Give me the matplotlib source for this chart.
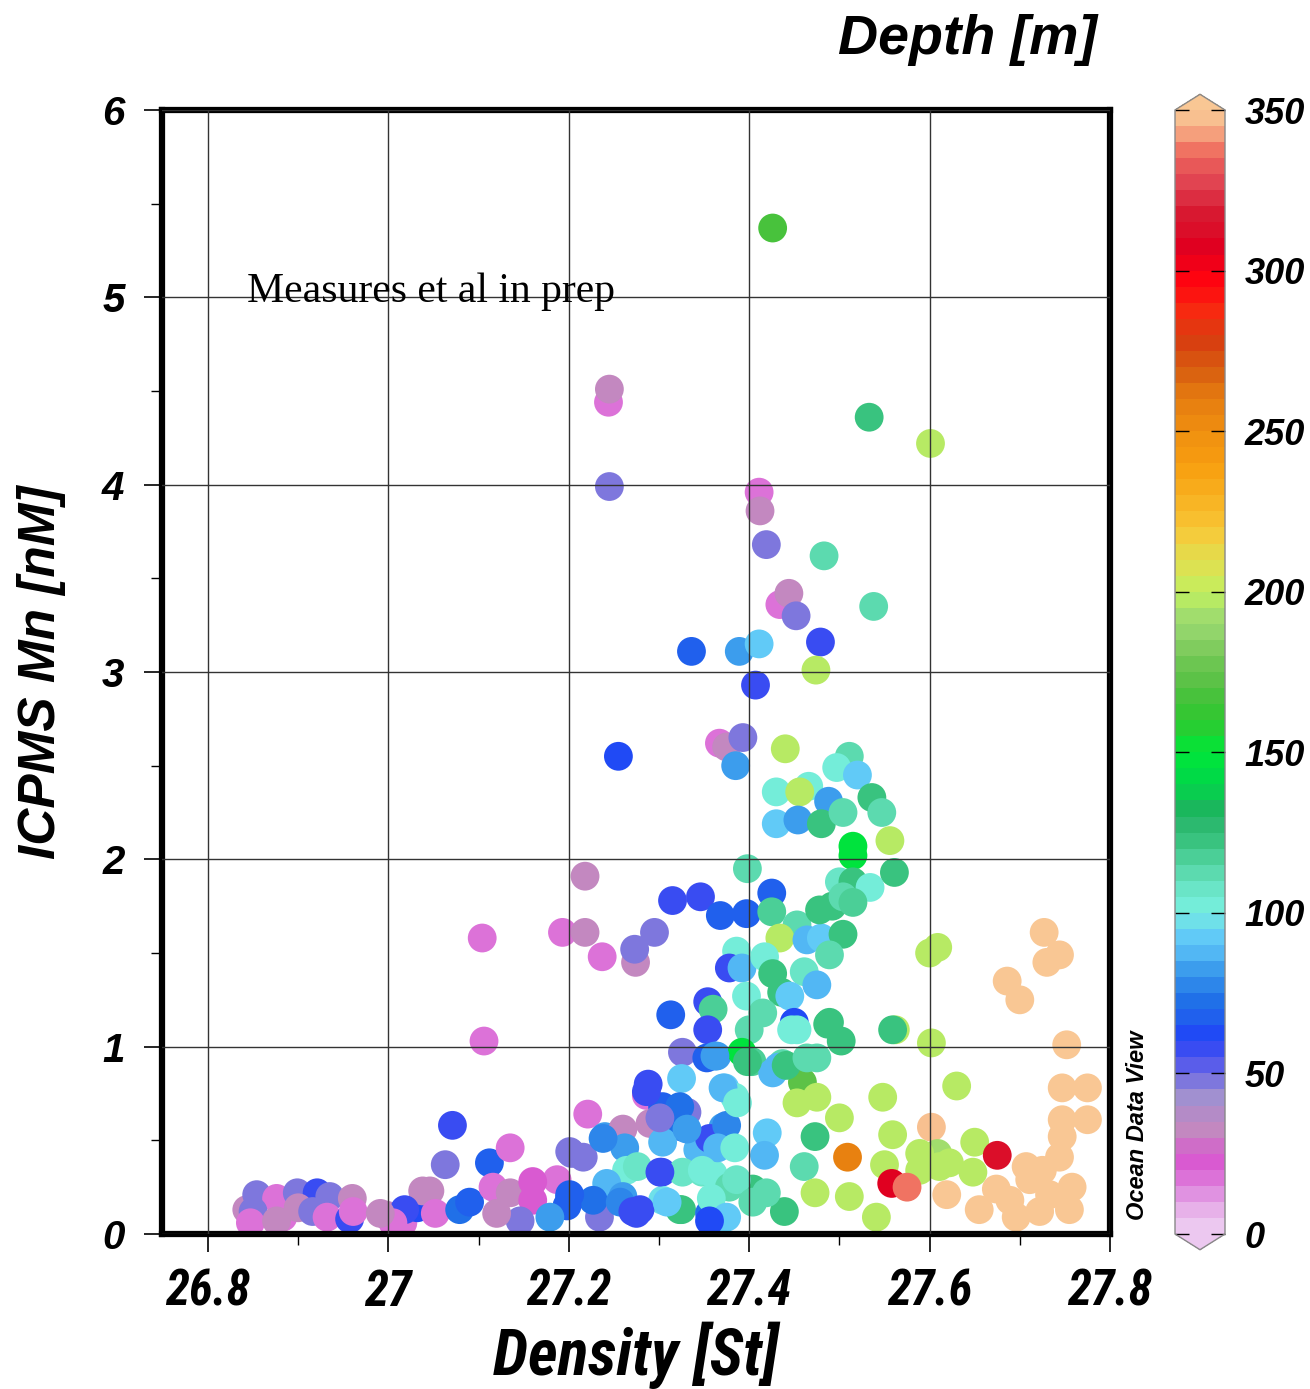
import numpy as np
import matplotlib.pyplot as plt
from matplotlib.colors import LinearSegmentedColormap, ListedColormap, Normalize
from matplotlib.ticker import MultipleLocator
from matplotlib import font_manager

# density [sigma-theta], Mn [nM], depth [m]
density = [27.426, 27.244, 27.245, 27.533, 27.601, 27.245, 27.411, 27.412, 27.419, 27.483,
           27.538, 27.434, 27.444, 27.452, 27.479, 27.474, 27.336, 27.389, 27.411, 27.407,
           27.255, 27.367, 27.375, 27.393, 27.385, 27.440, 27.511, 27.497, 27.520, 27.430,
           27.466, 27.456, 27.488, 27.430, 27.454, 27.480, 27.504, 27.536, 27.547, 27.556,
           27.515, 27.515,
           27.218, 27.193, 27.218, 27.237, 27.274, 27.273, 27.295, 27.315, 27.346, 27.368,
           27.397, 27.425, 27.425, 27.398, 27.453, 27.434, 27.464, 27.480, 27.478, 27.492,
           27.504, 27.489, 27.500, 27.515, 27.534, 27.561, 27.504, 27.515, 27.600, 27.609,
           27.386, 27.378, 27.392, 27.417, 27.426, 27.436, 27.461, 27.475, 27.397, 27.445,
           27.354, 27.360, 27.313, 27.354, 27.415, 27.400, 27.450, 27.447, 27.489, 27.502,
           27.562, 27.559, 27.602,
           27.326, 27.353, 27.364, 27.392, 27.403, 27.426, 27.437, 27.475, 27.459,
           27.325, 27.288, 27.286, 27.373, 27.384, 27.453, 27.475, 27.500, 27.548, 27.221,
           27.304, 27.331, 27.290, 27.240, 27.260, 27.262, 27.203, 27.216,
           27.326, 27.304, 27.343, 27.371, 27.356, 27.420, 27.417, 27.473, 27.461, 27.509,
           27.559, 27.602,
           27.264, 27.276, 27.242, 27.303, 27.326, 27.348, 27.360,
           27.404, 27.439, 27.378, 27.419, 27.325, 27.371, 27.356, 27.304, 27.275, 27.234,
           27.260, 27.227, 27.201, 27.187,
           27.487, 27.453, 27.432, 27.441, 27.464, 27.398, 27.362, 27.323, 27.331, 27.375,
           27.371, 27.387, 27.365, 27.384, 27.348, 27.301, 27.323, 27.358, 27.386, 27.404,
           27.375, 27.356,
           27.727, 27.730, 27.744, 27.686, 27.700, 27.752, 27.747, 27.775, 27.747, 27.775,
           27.747, 27.744, 27.707, 27.725, 27.758, 27.755, 27.722, 27.696, 27.689, 27.655,
           27.619, 27.674, 27.733, 27.711,
           27.650, 27.630, 27.609, 27.622, 27.648, 27.589, 27.589, 27.611,
           27.473, 27.511, 27.541, 27.550, 27.558, 27.575, 27.675,
           26.843, 26.854, 26.876, 26.850, 26.847, 26.883, 26.876, 26.899, 26.921, 26.935,
           26.900, 26.916, 26.932, 26.957, 26.960, 26.961,
           26.998, 27.016, 27.032, 27.046, 27.038, 27.052, 27.063, 27.071, 27.079, 27.090,
           27.112, 27.135, 27.116, 27.135, 27.160, 27.160, 27.146, 27.120, 27.198, 27.179,
           27.201, 27.238, 27.257, 27.279, 27.018, 27.005, 26.991, 27.201, 27.271, 27.309,
           27.301, 27.286,
           27.104, 27.106]

mn = [5.37, 4.44, 4.51, 4.36, 4.22, 3.99, 3.96, 3.86, 3.68, 3.62,
      3.35, 3.36, 3.42, 3.30, 3.16, 3.01, 3.11, 3.11, 3.15, 2.93,
      2.55, 2.62, 2.60, 2.65, 2.50, 2.59, 2.55, 2.49, 2.45, 2.36,
      2.39, 2.36, 2.31, 2.19, 2.21, 2.19, 2.25, 2.33, 2.25, 2.10,
      2.07, 2.02,
      1.91, 1.61, 1.61, 1.48, 1.45, 1.52, 1.61, 1.78, 1.80, 1.70,
      1.71, 1.82, 1.72, 1.95, 1.65, 1.58, 1.57, 1.58, 1.73, 1.75,
      1.60, 1.49, 1.88, 1.88, 1.85, 1.93, 1.80, 1.77, 1.50, 1.53,
      1.51, 1.42, 1.42, 1.48, 1.39, 1.29, 1.40, 1.33, 1.27, 1.27,
      1.24, 1.20, 1.17, 1.09, 1.18, 1.09, 1.13, 1.09, 1.13, 1.03,
      1.09, 1.09, 1.02,
      0.97, 0.94, 0.95, 0.97, 0.92, 0.86, 0.91, 0.94, 0.81,
      0.83, 0.80, 0.74, 0.78, 0.73, 0.70, 0.73, 0.62, 0.73, 0.64,
      0.68, 0.65, 0.59, 0.52, 0.56, 0.46, 0.43, 0.41,
      0.57, 0.49, 0.45, 0.57, 0.51, 0.54, 0.42, 0.52, 0.36, 0.41,
      0.53, 0.57,
      0.34, 0.36, 0.27, 0.33, 0.33, 0.33, 0.32,
      0.24, 0.12, 0.25, 0.22, 0.13, 0.09, 0.11, 0.18, 0.11, 0.09,
      0.20, 0.18, 0.20, 0.29,
      1.12, 1.09, 0.89, 0.90, 0.94, 0.92, 0.95, 0.68, 0.56, 0.58,
      0.78, 0.70, 0.46, 0.46, 0.34, 0.33, 0.13, 0.19, 0.29, 0.17,
      0.09, 0.07,
      1.61, 1.45, 1.49, 1.35, 1.25, 1.01, 0.78, 0.78, 0.61, 0.61,
      0.52, 0.41, 0.36, 0.34, 0.25, 0.13, 0.12, 0.09, 0.18, 0.13,
      0.21, 0.24, 0.21, 0.29,
      0.49, 0.79, 0.43, 0.38, 0.33, 0.43, 0.34, 0.36,
      0.22, 0.20, 0.09, 0.37, 0.27, 0.25, 0.42,
      0.13, 0.21, 0.19, 0.12, 0.06, 0.09, 0.07, 0.22, 0.22, 0.20,
      0.14, 0.12, 0.09, 0.08, 0.19, 0.12,
      0.10, 0.06, 0.14, 0.23, 0.23, 0.11, 0.37, 0.58, 0.13, 0.17,
      0.38, 0.46, 0.25, 0.22, 0.28, 0.18, 0.07, 0.11, 0.15, 0.09,
      0.44, 0.51, 0.17, 0.13, 0.13, 0.06, 0.11, 0.21, 0.12, 0.17,
      0.62, 0.76,
      1.58, 1.03]

depth = [165, 15, 30, 120, 195, 45, 15, 30, 45, 110,
         110, 15, 30, 45, 58, 195, 68, 80, 90, 58,
         60, 15, 30, 45, 80, 195, 112, 100, 90, 100,
         102, 195, 82, 90, 80, 120, 112, 120, 110, 195,
         148, 148,
         30, 15, 30, 18, 30, 45, 45, 58, 58, 68,
         66, 65, 118, 110, 110, 195, 85, 90, 120, 120,
         120, 110, 105, 120, 102, 120, 110, 118, 195, 195,
         100, 58, 85, 102, 120, 120, 105, 88, 102, 90,
         58, 118, 68, 58, 110, 110, 60, 102, 120, 120,
         195, 120, 195,
         45, 68, 82, 148, 118, 88, 110, 110, 172,
         90, 58, 15, 92, 100, 195, 195, 195, 195, 15,
         65, 45, 30, 80, 30, 80, 45, 48,
         70, 85, 85, 82, 58, 90, 88, 120, 110, 255,
         195, 345,
         102, 105, 85, 58, 105, 105, 100,
         120, 120, 110, 110, 120, 90, 70, 95, 58, 45,
         80, 70, 70, 15,
         120, 100, 85, 120, 110, 120, 80, 70, 80, 75,
         88, 100, 85, 100, 100, 58, 120, 100, 108, 110,
         90, 60,
         360, 360, 360, 360, 360, 360, 360, 360, 360, 360,
         360, 360, 360, 360, 360, 360, 360, 360, 360, 360,
         360, 360, 360, 360,
         195, 195, 192, 195, 195, 195, 195, 195,
         195, 195, 195, 195, 305, 335, 310,
         30, 45, 18, 45, 15, 15, 30, 45, 58, 45,
         30, 45, 15, 58, 30, 15,
         30, 15, 60, 30, 30, 15, 45, 58, 70, 68,
         68, 18, 15, 30, 20, 20, 45, 30, 68, 80,
         45, 78, 78, 58, 58, 15, 30, 68, 58, 92,
         48, 58,
         15, 18]

# ODV-like colour scale for depth
anchors = [(0, '#ecc8f0'), (10, '#e090e0'), (20, '#d855d0'), (30, '#c488c0'), (40, '#a090d0'),
           (50, '#6060e8'), (58, '#2040f8'), (70, '#2070e8'), (80, '#3898ec'), (90, '#60c8f8'),
           (100, '#78f0e0'), (110, '#60dcb4'), (120, '#40c888'), (130, '#20b060'), (140, '#00d848'),
           (150, '#00e838'), (160, '#30c830'), (170, '#50c040'), (180, '#78c858'), (190, '#98d870'),
           (200, '#c0f060'), (210, '#e0e050'), (220, '#f8c838'), (230, '#f8b020'), (240, '#f8a010'),
           (250, '#f09010'), (260, '#e88010'), (270, '#d86010'), (280, '#d84010'), (290, '#f82810'),
           (300, '#ff0010'), (310, '#e00020'), (320, '#d81830'), (330, '#e04050'), (340, '#f07060'),
           (350, '#f8c090')]
smooth = LinearSegmentedColormap.from_list('odv', [(v / 350, c) for v, c in anchors])
cmap = ListedColormap(smooth(np.linspace(0, 1, 70)))
cmap.set_over('#f9c794')
cmap.set_under('#ecc8f0')
norm = Normalize(0, 350)

installed = {f.name for f in font_manager.fontManager.ttflist}
narrow_opts = [n for n in ['Roboto Condensed', 'DejaVu Sans Condensed', 'Liberation Sans Narrow',
                           'Open Sans Condensed'] if n in installed]
sans = ['Liberation Sans', 'DejaVu Sans']
if narrow_opts:
    narrow, nscale = [narrow_opts[0], 'DejaVu Sans'], 1.0
else:
    narrow, nscale = sans, 0.85

fig = plt.figure(figsize=(13.1, 13.89), dpi=100)
ax = fig.add_axes([162 / 1310, 155 / 1389, 948 / 1310, 1124 / 1389])

ax.scatter(density, mn, c=depth, cmap=cmap, norm=norm, s=430, linewidths=0, zorder=1)

ax.set_xlim(26.749, 27.8)
ax.set_ylim(0, 6)
ax.xaxis.set_major_locator(MultipleLocator(0.2))
ax.xaxis.set_minor_locator(MultipleLocator(0.1))
ax.yaxis.set_major_locator(MultipleLocator(1))
ax.yaxis.set_minor_locator(MultipleLocator(0.5))
ax.set_axisbelow(False)
ax.grid(which='major', color='#333333', linewidth=1.0)
for s in ax.spines.values():
    s.set_linewidth(4.5)
ax.tick_params(which='major', direction='out', length=13, width=1.2)
ax.tick_params(which='minor', direction='out', length=8, width=1.0)

xt = [26.8, 27.0, 27.2, 27.4, 27.6, 27.8]
xl = ['26.8', '27', '27.2', '27.4', '27.6', '27.8']
ax.set_xticks(xt)
ax.set_xticklabels(xl, fontfamily=narrow, fontweight='bold', fontstyle='italic',
                   fontsize=35 * nscale)
ax.set_yticks(range(7))
ax.set_yticklabels([str(i) for i in range(7)], fontfamily=sans, fontweight='bold',
                   fontstyle='italic', fontsize=29)
ax.tick_params(axis='x', which='major', pad=12)
ax.tick_params(axis='y', which='major', pad=14)

ax.text(26.843, 5.03, 'Measures et al in prep', fontfamily=['Liberation Serif', 'DejaVu Serif'],
        fontsize=30, va='center', ha='left')

fig.text(636 / 1310, 1 - 1355 / 1389, 'Density [St]', fontfamily=narrow, fontweight='bold',
         fontstyle='italic', fontsize=46 * nscale, ha='center', va='center')
fig.text(42 / 1310, 1 - 672 / 1389, 'ICPMS Mn [nM]', fontfamily=sans, fontweight='bold',
         fontstyle='italic', fontsize=37, ha='center', va='center', rotation=90)
fig.text(967 / 1310, 1 - 40 / 1389, 'Depth [m]', fontfamily=sans, fontweight='bold',
         fontstyle='italic', fontsize=40, ha='center', va='center')
fig.text(1137 / 1310, 1 - 1125 / 1389, 'Ocean Data View', fontfamily=sans, fontweight='bold',
         fontstyle='italic', fontsize=17, ha='center', va='center', rotation=90)

# colour bar: the extend triangles are drawn inside the axes box, so enlarge it
ef = 0.014
bar_h = 1124 * (1 + 2 * ef)
cax = fig.add_axes([1175 / 1310, (155 - 1124 * ef) / 1389, 50 / 1310, bar_h / 1389])
sm = plt.cm.ScalarMappable(norm=norm, cmap=cmap)
cb = fig.colorbar(sm, cax=cax, extend='both', extendfrac=ef, ticks=range(0, 351, 50))
cb.outline.set_edgecolor('#888888')
cb.outline.set_linewidth(1.0)
cax.tick_params(direction='in', left=True, right=True, length=10, width=1.0, pad=14)
cax.set_yticklabels([str(v) for v in range(0, 351, 50)], fontfamily=sans, fontweight='bold',
                    fontstyle='italic', fontsize=26)

fig.savefig('out.png', dpi=100, facecolor='white')
